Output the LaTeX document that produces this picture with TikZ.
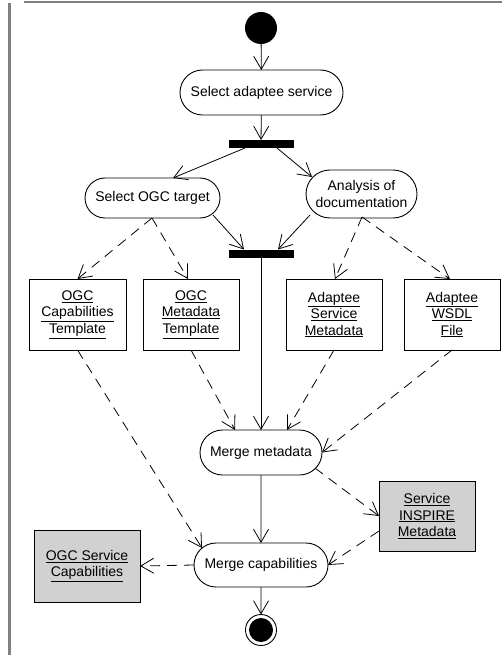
\documentclass[tikz,border=0pt]{standalone}
\usepackage{fontspec}
\setmainfont{Liberation Sans}
\usetikzlibrary{arrows.meta,shapes.misc}
\begin{document}
\begin{tikzpicture}[x=1pt,y=-1pt,
  every node/.style={font=\fontsize{14}{16.5}\selectfont, inner sep=0pt, outer sep=0pt},
  act/.style={draw, line width=0.9pt, rounded rectangle, align=center},
  obj/.style={draw, line width=0.9pt, rectangle, align=center},
  objg/.style={obj, fill=black!18},
  bar/.style={fill=black, minimum width=65pt, minimum height=8pt},
  flow/.style={line width=0.8pt, -{Straight Barb[length=13pt,width=15pt,line width=0.8pt]}},
  dflow/.style={flow, dash pattern=on 10pt off 7pt},
  frame/.style={draw=black!50, line width=2.5pt}
]
\useasboundingbox (0,0) rectangle (502,655);
\draw[frame] (24,2) -- (502,2);
\draw[frame] (9.3,3) -- (9.3,655);

\node[circle, fill=black, minimum size=32pt] (start) at (261,28) {};
\node[act, minimum width=163pt, minimum height=45pt] (sas) at (261.5,92.5) {Select adaptee service};
\node[bar] (f1) at (261,144) {};
\node[act, minimum width=135pt, minimum height=40pt] (sot) at (152.5,198) {Select OGC target};
\node[act, minimum width=111pt, minimum height=48pt] (aod) at (361.5,194) {Analysis of\\documentation};
\node[bar] (f2) at (261,253.5) {};

\node[obj, minimum width=97pt, minimum height=71pt] (oct) at (77.5,314.5) {\underline{OGC}\\\underline{Capabilities}\\\underline{Template}};
\node[obj, minimum width=96pt, minimum height=71pt] (omt) at (191,314.5) {\underline{OGC}\\\underline{Metadata}\\\underline{Template}};
\node[obj, minimum width=96pt, minimum height=71pt] (asm) at (334,314.5) {\underline{Adaptee}\\\underline{Service}\\\underline{Metadata}};
\node[obj, minimum width=96pt, minimum height=71pt] (awf) at (452,314.5) {\underline{Adaptee}\\\underline{WSDL}\\\underline{File}};

\node[act, minimum width=122pt, minimum height=45pt] (mm) at (261,452.5) {Merge metadata};
\node[objg, minimum width=96pt, minimum height=70pt] (sim) at (427,516) {\underline{Service}\\\underline{INSPIRE}\\\underline{Metadata}};
\node[act, minimum width=134pt, minimum height=44pt] (mc) at (261,565) {Merge capabilities};
\node[objg, minimum width=106pt, minimum height=72pt] (osc) at (87,566) {\underline{OGC Service}\\\underline{Capabilities}};

\node[circle, draw, line width=0.9pt, minimum size=31pt] (end) at (261,630) {};
\node[circle, fill=black, minimum size=24pt] at (end) {};

% control flow
\draw[flow] (start) -- (sas);
\draw[flow] (sas) -- (f1);
\draw[flow] (f1.south -| 245,0) -- (sot.north -| 173,0);
\draw[flow] (f1.south -| 277,0) -- (312,177);
\draw[flow] (213,215) -- (f2.north -| 244,0);
\draw[flow] (310,215) -- (f2.north -| 278,0);
\draw[flow] (f2) -- (mm);
\draw[flow] (mm) -- (mc);
\draw[flow] (mc) -- (end);

% object flows
\draw[dflow] (152,218) -- (oct.north);
\draw[dflow] (152,218) -- (omt.north -| 188,0);
\draw[dflow] (362,217) -- (asm.north -| 335,0);
\draw[dflow] (362,217) -- (awf.north -| 450,0);
\draw[dflow] (omt.south) -- (mm.north -| 235,0);
\draw[dflow] (asm.south) -- (mm.north -| 287,0);
\draw[dflow] (awf.south) -- (mm.east);
\draw[dflow] (oct.south) -- (202,548);
\draw[dflow] (315,468) -- (sim.west);
\draw[dflow] (sim.west |- 0,531) -- (mc.east);
\draw[dflow] (mc.west) -- (osc.east);
\end{tikzpicture}
\end{document}
